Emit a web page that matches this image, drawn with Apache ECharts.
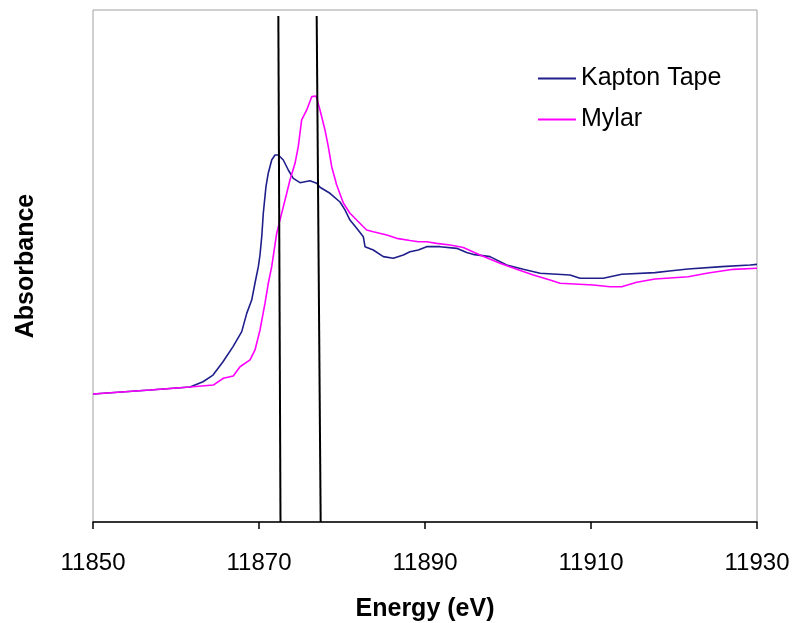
<!DOCTYPE html>
<html>
<head>
<meta charset="utf-8">
<title>Absorbance vs Energy</title>
<script src="https://cdn.jsdelivr.net/npm/echarts@6/dist/echarts.min.js"></script>
<style>
  html, body { margin: 0; padding: 0; background: #ffffff; }
  #chart { width: 799px; height: 623px; }
</style>
</head>
<body>
<div id="chart"></div>
<script>
// X-ray absorption near the edge: two sample windows compared
const xTicks = [11850, 11870, 11890, 11910, 11930];

const kaptonEnergy = [
  11850.00, 11856.87, 11861.69, 11863.25, 11864.46, 11865.66, 11866.87, 11867.92,
  11868.52, 11869.12, 11869.52, 11869.92, 11870.12, 11870.33, 11870.52, 11870.84,
  11871.12, 11871.53, 11871.93, 11872.33, 11872.93, 11873.53, 11874.13, 11874.94,
  11876.14, 11876.95, 11877.35, 11878.55, 11879.76, 11880.36, 11880.96, 11881.77,
  11882.57, 11882.77, 11883.77, 11884.98, 11886.18, 11887.39, 11888.19, 11889.19,
  11890.20, 11891.81, 11893.82, 11895.02, 11895.78, 11897.83, 11899.84, 11901.84,
  11903.86, 11907.47, 11908.67, 11911.48, 11913.70, 11917.71, 11919.72, 11921.69,
  11925.75, 11929.16, 11930.00
];
const kaptonAbs = [
  0.000, 0.031, 0.055, 0.096, 0.148, 0.252, 0.370, 0.487,
  0.630, 0.734, 0.867, 0.995, 1.086, 1.229, 1.414, 1.620,
  1.727, 1.828, 1.867, 1.867, 1.828, 1.750, 1.685, 1.651,
  1.666, 1.646, 1.615, 1.568, 1.500, 1.438, 1.359, 1.295,
  1.229, 1.151, 1.125, 1.073, 1.060, 1.086, 1.112, 1.125,
  1.151, 1.151, 1.138, 1.105, 1.091, 1.073, 1.008, 0.974,
  0.943, 0.930, 0.904, 0.904, 0.935, 0.948, 0.963, 0.977,
  0.995, 1.008, 1.013
];

const mylarEnergy = [
  11850.00, 11856.87, 11861.69, 11864.49, 11865.70, 11866.90, 11867.71, 11868.92,
  11869.52, 11870.12, 11870.72, 11871.12, 11871.53, 11871.72, 11872.13, 11872.73,
  11873.34, 11873.73, 11874.34, 11874.73, 11875.14, 11875.75, 11876.35, 11876.87,
  11877.35, 11877.95, 11878.35, 11878.76, 11879.36, 11880.16, 11880.96, 11881.77,
  11882.57, 11882.98, 11883.77, 11885.39, 11886.59, 11888.19, 11889.19, 11890.20,
  11891.41, 11893.01, 11894.61, 11896.63, 11899.04, 11901.05, 11903.05, 11905.06,
  11906.27, 11910.28, 11912.29, 11913.70, 11915.51, 11917.71, 11921.72, 11923.94,
  11925.94, 11927.14, 11930.00
];
const mylarAbs = [
  0.000, 0.031, 0.055, 0.070, 0.123, 0.141, 0.213, 0.266,
  0.344, 0.500, 0.708, 0.865, 0.995, 1.078, 1.255, 1.411,
  1.568, 1.672, 1.802, 1.932, 2.141, 2.219, 2.323, 2.328,
  2.219, 2.063, 1.932, 1.776, 1.633, 1.492, 1.412, 1.359,
  1.307, 1.281, 1.268, 1.242, 1.216, 1.199, 1.190, 1.190,
  1.177, 1.164, 1.145, 1.086, 1.021, 0.974, 0.930, 0.891,
  0.865, 0.852, 0.838, 0.838, 0.873, 0.898, 0.916, 0.943,
  0.963, 0.974, 0.982
];

// Two reference energies marked by vertical rules (top and bottom ends)
const ruleAEnergy = [11872.33, 11872.59];
const ruleBEnergy = [11876.95, 11877.43];
const ruleAbs = [2.953, -1.0];

const zip = (xs, ys) => xs.map((x, i) => [x, ys[i]]);

const chart = echarts.init(document.getElementById('chart'), null, { renderer: 'canvas' });

const ruleStyle = { color: '#000000', width: 2 };
const font = 'Liberation Sans, Arial, sans-serif';

chart.setOption({
  animation: false,
  backgroundColor: '#ffffff',
  grid: {
    left: 93, right: 42, top: 10, bottom: 101,
    outerBoundsMode: 'none', containLabel: false,
    show: true, borderColor: '#a0a0a0', borderWidth: 1, backgroundColor: 'transparent'
  },
  legend: {
    data: ['Kapton Tape', 'Mylar'],
    orient: 'vertical',
    left: 533, top: 61,
    icon: 'rect',
    itemWidth: 38, itemHeight: 2, itemGap: 16,
    textStyle: { fontFamily: font, fontSize: 25, color: '#000000' }
  },
  xAxis: {
    type: 'value',
    min: xTicks[0], max: xTicks[xTicks.length - 1], interval: 20,
    name: 'Energy (eV)', nameLocation: 'middle', nameGap: 75,
    nameTextStyle: { fontFamily: font, fontSize: 25, fontWeight: 'bold', color: '#000000' },
    axisLine: { show: true, onZero: false, lineStyle: { color: '#000000', width: 1.5 } },
    axisTick: { show: true, inside: false, length: 7, lineStyle: { color: '#000000', width: 1.5 } },
    axisLabel: {
      margin: 29, fontFamily: font, fontSize: 24, color: '#000000',
      formatter: (v) => String(v)
    },
    splitLine: { show: false }
  },
  yAxis: {
    type: 'value',
    min: -1, max: 3,
    name: 'Absorbance', nameLocation: 'middle', nameGap: 54, nameRotate: 90,
    nameTextStyle: { fontFamily: font, fontSize: 25, fontWeight: 'bold', color: '#000000' },
    axisLine: { show: false },
    axisTick: { show: false },
    axisLabel: { show: false },
    splitLine: { show: false }
  },
  series: [
    {
      name: 'Kapton Tape', type: 'line', data: zip(kaptonEnergy, kaptonAbs),
      symbol: 'none', smooth: false, color: '#1f1f8c',
      lineStyle: { color: '#1f1f8c', width: 1.6 }, z: 3
    },
    {
      name: 'Mylar', type: 'line', data: zip(mylarEnergy, mylarAbs),
      symbol: 'none', smooth: false, color: '#ff00ff',
      lineStyle: { color: '#ff00ff', width: 1.6 }, z: 3
    },
    {
      name: 'ruleA', type: 'line', data: zip(ruleAEnergy, ruleAbs),
      symbol: 'none', lineStyle: ruleStyle, z: 4, silent: true
    },
    {
      name: 'ruleB', type: 'line', data: zip(ruleBEnergy, ruleAbs),
      symbol: 'none', lineStyle: ruleStyle, z: 4, silent: true
    }
  ]
});
</script>
</body>
</html>
